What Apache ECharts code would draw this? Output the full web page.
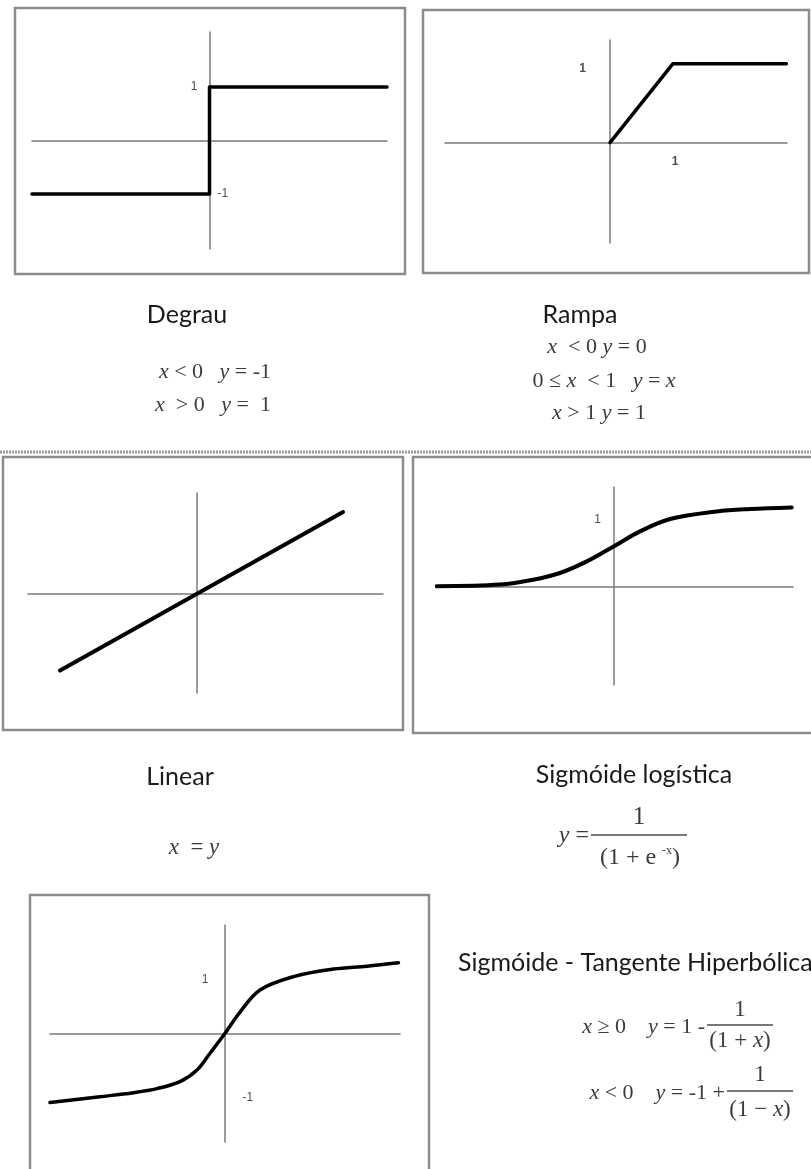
<!DOCTYPE html>
<html>
<head>
<meta charset="utf-8">
<script src="https://cdn.jsdelivr.net/npm/echarts@6/dist/echarts.min.js"></script>
<style>
  html, body { margin: 0; padding: 0; background: #fff; }
  #chart { width: 811px; height: 1169px; }
</style>
</head>
<body>
<div id="chart"></div>
<script>
// Degrau (step)
const degrauX = [-1, 0, 0, 1];
const degrauY = [-1, -1, 1, 1];
const degrauTickText = ['1', '-1'];
const degrauTickX = [0, 0];
const degrauTickY = [1, -1];

// Rampa (ramp)
const rampaX = [0, 1, 2.8];
const rampaY = [0, 1, 1];
const rampaTickText = ['1', '1'];
const rampaTickX = [0, 1];
const rampaTickY = [1, 0];

// Linear
const linearX = [-1.37, 1.46];
const linearY = [-1.37, 1.46];

// Sigmóide logística
const logisticaX = [-5.54, -3.56, -2.53, -1.69, -0.85, 0, 0.81, 1.75, 3.21, 4.25, 5.55];
const logisticaY = [0.01, 0.03, 0.09, 0.175, 0.32, 0.51, 0.695, 0.85, 0.945, 0.975, 0.995];
const logisticaTickText = ['1'];
const logisticaTickX = [0];
const logisticaTickY = [1];

// Sigmóide - Tangente Hiperbólica
const tangenteX = [-3.49, -2.49, -1.82, -1.35, -0.89, -0.55, -0.29, 0, 0.31, 0.71, 1.38, 2.18, 2.85, 3.48];
const tangenteY = [-1.18, -1.08, -1.01, -0.94, -0.82, -0.62, -0.33, 0, 0.38, 0.76, 0.99, 1.12, 1.17, 1.23];
const tangenteTickText = ['1', '-1'];
const tangenteTickX = [0, 0];
const tangenteTickY = [1, -1];

const zip = (a, b) => a.map((v, i) => [v, b[i]]);

const panels = [
  { grid: { left: 32, top: 32, width: 355, height: 217 }, xr: [-1, 1], yr: [-2.03, 2.03],
    xs: degrauX, ys: degrauY, lw: 3.5, smooth: false,
    ticks: { text: degrauTickText, x: degrauTickX, y: degrauTickY },
    tickStyle: [{ pos: 'left', dist: 12, off: [0, 0] }, { pos: 'right', dist: 8, off: [0, 0] }] },
  { grid: { left: 445, top: 40, width: 342, height: 203 }, xr: [-2.62, 2.81], yr: [-1.27, 1.30],
    xs: rampaX, ys: rampaY, lw: 3.5, smooth: false,
    ticks: { text: rampaTickText, x: rampaTickX, y: rampaTickY }, bold: true,
    tickStyle: [{ pos: 'left', dist: 24, off: [0, 5] }, { pos: 'bottom', dist: 13, off: [2, 0] }] },
  { grid: { left: 28, top: 493, width: 355, height: 200 }, xr: [-1.69, 1.86], yr: [-1.77, 1.80],
    xs: linearX, ys: linearY, lw: 4, smooth: false, ticks: null },
  { grid: { left: 437, top: 487, width: 356, height: 198 }, xr: [-5.53, 5.59], yr: [-1.225, 1.25],
    xs: logisticaX, ys: logisticaY, lw: 4, smooth: 0.35,
    ticks: { text: logisticaTickText, x: logisticaTickX, y: logisticaTickY },
    tickStyle: [{ pos: 'left', dist: 13, off: [0, 13] }] },
  { grid: { left: 50, top: 925, width: 350, height: 217 }, xr: [-3.49, 3.51], yr: [-1.86, 1.88],
    xs: tangenteX, ys: tangenteY, lw: 3.5, smooth: 0.35,
    ticks: { text: tangenteTickText, x: tangenteTickX, y: tangenteTickY },
    tickStyle: [{ pos: 'left', dist: 16, off: [0, 4] }, { pos: 'right', dist: 18, off: [0, 6] }] }
];

const axisLineStyle = { color: '#7a7a7a', width: 1.5 };
const grids = [], xAxes = [], yAxes = [], series = [];

panels.forEach((p, i) => {
  grids.push(Object.assign({ containLabel: false }, p.grid));
  const axisBase = {
    gridIndex: i, type: 'value',
    axisLine: { show: true, onZero: true, lineStyle: axisLineStyle },
    axisTick: { show: false }, axisLabel: { show: false }, splitLine: { show: false }
  };
  xAxes.push(Object.assign({ min: p.xr[0], max: p.xr[1] }, axisBase));
  yAxes.push(Object.assign({ min: p.yr[0], max: p.yr[1] }, axisBase));
  series.push({
    type: 'line', xAxisIndex: i, yAxisIndex: i, data: zip(p.xs, p.ys),
    symbol: 'none', smooth: p.smooth, z: 5,
    lineStyle: { color: '#000', width: p.lw, cap: 'round', join: 'round' }
  });
  if (p.ticks) {
    series.push({
      type: 'scatter', xAxisIndex: i, yAxisIndex: i, symbolSize: 0.01,
      itemStyle: { color: 'transparent' }, silent: true, z: 6,
      data: p.ticks.text.map((t, k) => ({
        name: t, value: [p.ticks.x[k], p.ticks.y[k]],
        label: { position: p.tickStyle[k].pos, distance: p.tickStyle[k].dist, offset: p.tickStyle[k].off }
      })),
      label: {
        show: true, formatter: '{b}', color: '#222',
        fontFamily: 'Liberation Sans', fontSize: 12, fontWeight: p.bold ? 'bold' : 'normal'
      }
    });
  }
});

// frames around each plot
const frameStyle = { fill: 'none', stroke: '#8c8c8c', lineWidth: 2.5 };
const frames = [
  [15, 8, 390, 266], [423, 10, 386, 263], [3, 457, 400, 273], [413, 457, 420, 276], [30, 895, 399, 300]
].map(r => ({ type: 'rect', silent: true, shape: { x: r[0], y: r[1], width: r[2], height: r[3] }, style: frameStyle }));

const titleFont = 'normal 25px Lato';
const mathColor = '#3c3c3c';
function mathRich(size) {
  return {
    i: { fontStyle: 'italic', fontSize: size, fontFamily: 'Liberation Serif', fill: mathColor },
    sup: { fontStyle: 'normal', fontSize: Math.round(size * 0.5), fontFamily: 'Liberation Serif', fill: mathColor, verticalAlign: 'top', lineHeight: Math.round(size * 0.5) }
  };
}

function title(text, x, y, align) {
  return { type: 'text', x: x, y: y, silent: true,
    style: { text: text, font: titleFont, fill: '#1a1a1a', textAlign: align || 'center', textVerticalAlign: 'middle' } };
}
function math(text, x, y, align, size) {
  const s = size || 22;
  return { type: 'text', x: x, y: y, silent: true,
    style: { text: text, font: 'normal ' + s + 'px "Liberation Serif"', fill: mathColor,
      textAlign: align || 'center', textVerticalAlign: 'middle', rich: mathRich(s), lineHeight: s + 2 } };
}
function bar(x1, x2, y) {
  return { type: 'line', silent: true, shape: { x1: x1, y1: y, x2: x2, y2: y }, style: { stroke: '#4a4a4a', lineWidth: 1.3 } };
}

const texts = [
  title('Degrau', 187, 315),
  math('{i|x} < 0   {i|y} = -1', 215, 372),
  math('{i|x}  > 0   {i|y} =  1', 213, 405),

  title('Rampa', 580, 315),
  math('{i|x}  < 0 {i|y} = 0', 597, 347),
  math('0 ≤ {i|x}  < 1   {i|y} = {i|x}', 604, 381),
  math('{i|x} > 1 {i|y} = 1', 599, 413),

  title('Linear', 180, 777),
  math('{i|x}  = {i|y}', 194, 848, 'center', 23),

  title('Sigmóide logística', 634, 775),
  math('{i|y} =', 589, 836, 'right', 24),
  math('1', 639, 817, 'center', 25),
  bar(591, 687, 835),
  math('(1 + e {sup|-x})', 640, 858, 'center', 24),

  title('Sigmóide - Tangente Hiperbólica', 458, 963, 'left'),
  math('{i|x} ≥ 0    {i|y} = 1 -', 705, 1027, 'right'),
  math('1', 740, 1010, 'center', 23),
  bar(707, 773, 1025),
  math('(1 + {i|x})', 740, 1041, 'center', 23),
  math('{i|x} < 0    {i|y} = -1 +', 725, 1093, 'right'),
  math('1', 760, 1075, 'center', 23),
  bar(727, 793, 1091),
  math('(1 − {i|x})', 760, 1110, 'center', 23)
];

// dotted rule between the first and second rows
const separator = { type: 'line', silent: true, shape: { x1: 0, y1: 452, x2: 811, y2: 452 },
  style: { stroke: '#9a9a9a', lineWidth: 3, lineDash: [2, 1] } };

const chart = echarts.init(document.getElementById('chart'), null, { renderer: 'canvas' });
chart.setOption({
  backgroundColor: '#fff',
  animation: false,
  grid: grids,
  xAxis: xAxes,
  yAxis: yAxes,
  series: series,
  graphic: { elements: frames.concat([separator]).concat(texts) }
});
</script>
</body>
</html>
